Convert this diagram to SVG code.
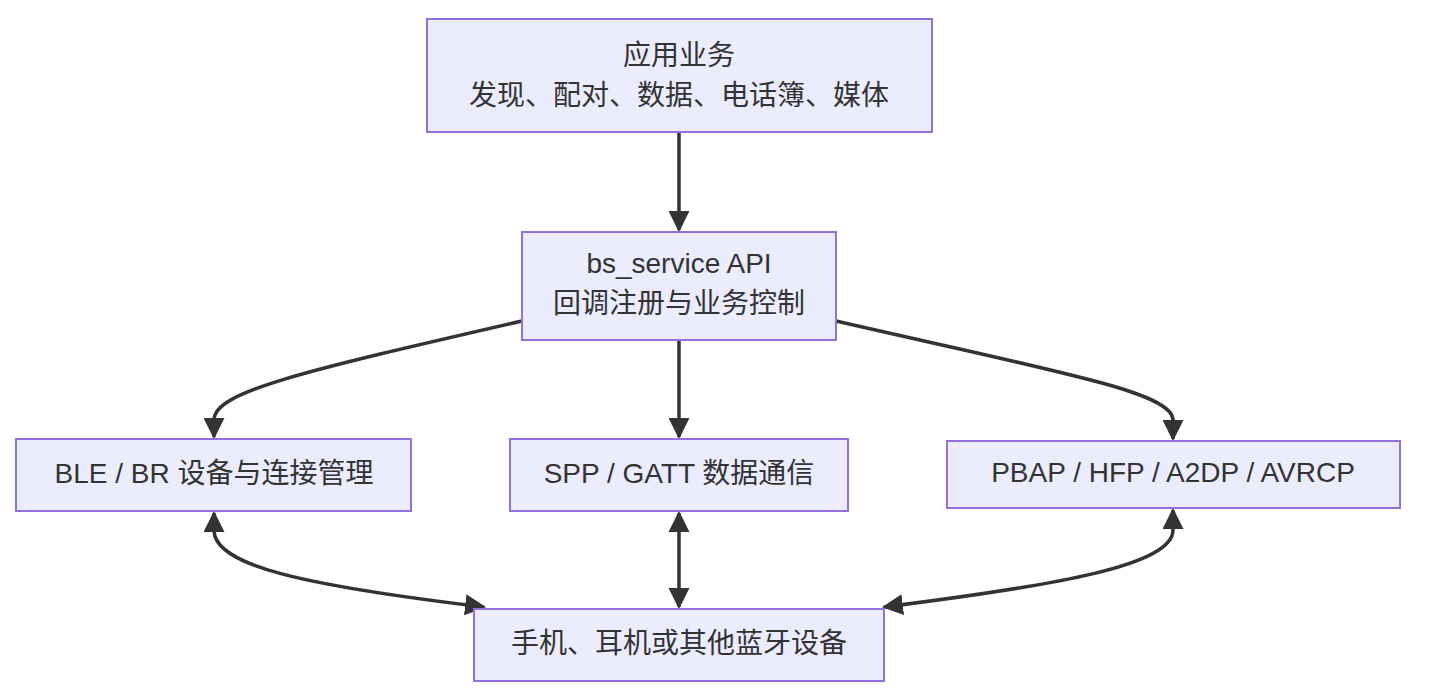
<svg xmlns="http://www.w3.org/2000/svg" width="1432" height="700" viewBox="0 0 1432 700">
<style>
.n rect{fill:#ECECFF;stroke:#9370DB;stroke-width:2}
.n text{font-family:"Liberation Sans","Noto Sans CJK SC",sans-serif;font-size:28px;fill:#333;text-anchor:middle;dominant-baseline:middle}
.e path{fill:none;stroke:#333;stroke-width:3.5}
</style>
<defs>
<marker id="a" viewBox="0 0 10 10" refX="9" refY="5" markerWidth="6" markerHeight="6" orient="auto-start-reverse" markerUnits="strokeWidth"><path d="M0,0L10,5L0,10z" fill="#333"/></marker>
</defs>
<rect width="1432" height="700" fill="#fff"/>
<g class="e">
<path d="M679,132V230" marker-end="url(#a)"/>
<path d="M522,321C300,372 214,392 214,420V437" marker-end="url(#a)"/>
<path d="M679,340V437" marker-end="url(#a)"/>
<path d="M836,321C1058,372 1173,392 1173,420V439" marker-end="url(#a)"/>
<path d="M214,513V530C214,565 300,585 484,607" marker-start="url(#a)" marker-end="url(#a)"/>
<path d="M679,513V607" marker-start="url(#a)" marker-end="url(#a)"/>
<path d="M1173,510V530C1173,565 1060,585 884,607" marker-start="url(#a)" marker-end="url(#a)"/>
</g>
<g id="app" class="n"><rect x="427" y="19" width="505" height="113"/><text x="679" y="58">应用业务</text><text x="679" y="98">发现、配对、数据、电话簿、媒体</text></g>
<g id="api" class="n"><rect x="522" y="232" width="314" height="108"/><text x="679" y="266">bs_service API</text><text x="679" y="306">回调注册与业务控制</text></g>
<g id="ble" class="n"><rect x="16" y="439" width="395" height="72"/><text x="214" y="476">BLE / BR 设备与连接管理</text></g>
<g id="spp" class="n"><rect x="510" y="439" width="338" height="72"/><text x="679" y="476">SPP / GATT 数据通信</text></g>
<g id="pbap" class="n"><rect x="947" y="441" width="453" height="67"/><text x="1173" y="475">PBAP / HFP / A2DP / AVRCP</text></g>
<g id="dev" class="n"><rect x="474" y="609" width="410" height="72"/><text x="679" y="646">手机、耳机或其他蓝牙设备</text></g>
</svg>
